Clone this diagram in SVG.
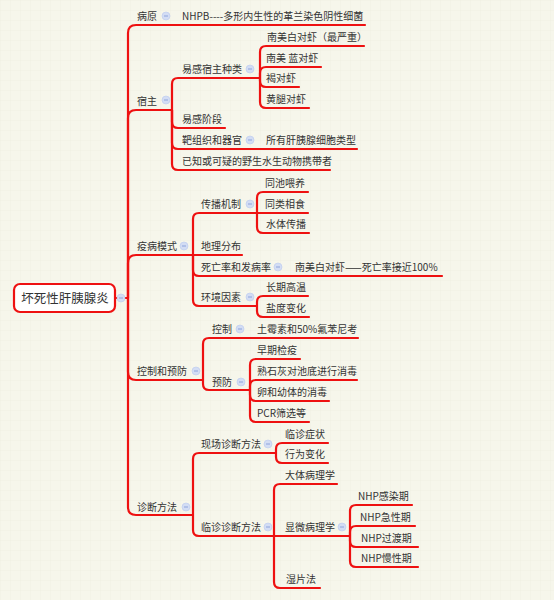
<svg xmlns="http://www.w3.org/2000/svg" width="554" height="600" viewBox="0 0 554 600">
<defs>
<pattern id="grid" width="10" height="10" patternUnits="userSpaceOnUse">
<path d="M10 0H0V10" fill="none" stroke="#ebebdc" stroke-width="0.6"/>
</pattern>
<g id="ic"><circle r="4" fill="#d3ddf4" stroke="#bccaee" stroke-width="0.6"/><path d="M-2 0H2" stroke="#8ea4dc" stroke-width="1"/></g>
</defs>
<style>
text{font-family:"Noto Sans CJK SC","Noto Sans",sans-serif;font-size:10px;fill:#333}
.root{font-size:12.5px}
.c path{fill:none;stroke:#ee1111;stroke-width:2.2;stroke-linecap:round;stroke-linejoin:round}
</style>
<rect width="554" height="600" fill="#f6f6eb"/>
<rect width="554" height="600" fill="url(#grid)"/>
<g class="c" id="connectors">
<path d="M115 298H128"/>
<path d="M128 298V33Q128 25 136 25H365"/>
<path d="M128 298V118Q128 110 136 110H172"/>
<path d="M128 298V263Q128 255 136 255H193"/>
<path d="M128 298V372Q128 380 136 380H203"/>
<path d="M128 298V507Q128 515 136 515H193"/>
<path d="M172 110V84Q172 78 178 78H260"/>
<path d="M172 110V122Q172 128 178 128H225"/>
<path d="M172 110V143Q172 149 178 149H357"/>
<path d="M172 110V164Q172 170 178 170H330"/>
<path d="M260 78V52Q260 46 266 46H364"/>
<path d="M260 78V73Q260 67 266 67H321"/>
<path d="M260 78V81Q260 87 266 87H299"/>
<path d="M260 78V102Q260 108 266 108H309"/>
<path d="M193 255V219Q193 213 199 213H257"/>
<path d="M193 255H242"/>
<path d="M193 255V270Q193 276 199 276H442"/>
<path d="M193 255V300Q193 306 199 306H257"/>
<path d="M257 213V198Q257 192 263 192H308"/>
<path d="M257 213H308"/>
<path d="M257 213V227Q257 233 263 233H309"/>
<path d="M257 306V302Q257 296 263 296H308"/>
<path d="M257 306V311Q257 317 263 317H309"/>
<path d="M203 380V344Q203 338 209 338H358"/>
<path d="M203 380V384Q203 390 209 390H250"/>
<path d="M250 390V365Q250 359 256 359H300"/>
<path d="M250 390V386Q250 380 256 380H357"/>
<path d="M250 390V395Q250 401 256 401H329"/>
<path d="M250 390V416Q250 422 256 422H309"/>
<path d="M193 515V459Q193 453 199 453H276"/>
<path d="M193 515V530Q193 536 199 536H274"/>
<path d="M276 453V449Q276 443 282 443H328"/>
<path d="M276 453V457Q276 463 282 463H328"/>
<path d="M274 536V490Q274 484 280 484H337"/>
<path d="M274 536H350"/>
<path d="M274 536V582Q274 588 280 588H320"/>
<path d="M350 536V511Q350 505 356 505H412"/>
<path d="M350 536V532Q350 526 356 526H415"/>
<path d="M350 536V541Q350 547 356 547H418"/>
<path d="M350 536V561Q350 567 356 567H418"/>
</g>
<g id="root"><rect x="14" y="284" width="101" height="28" rx="6" fill="#fff" stroke="#ee1111" stroke-width="2.2"/><text class="root" x="65" y="303" text-anchor="middle">坏死性肝胰腺炎</text><use href="#ic" x="121" y="298"/></g>
<g id="n-bingyuan"><text x="137" y="20">病原</text><use href="#ic" x="166" y="16"/></g>
<g id="n-nhpb"><text x="182" y="20">NHPB----多形内生性的革兰染色阴性细菌</text></g>
<g id="n-suzhu"><text x="137" y="105">宿主</text><use href="#ic" x="166" y="100"/></g>
<g id="n-yigansuzhu"><text x="182" y="73">易感宿主种类</text><use href="#ic" x="250" y="69"/></g>
<g id="n-nmbdx"><text x="267" y="41">南美白对虾（最严重）</text></g>
<g id="n-nmldx"><text x="266" y="62">南美 蓝对虾</text></g>
<g id="n-hdx"><text x="266" y="82">褐对虾</text></g>
<g id="n-htdx"><text x="266" y="103">黄腿对虾</text></g>
<g id="n-yganjd"><text x="182" y="123">易感阶段</text></g>
<g id="n-bazz"><text x="182" y="144">靶组织和器官</text><use href="#ic" x="250" y="140"/></g>
<g id="n-suoyou"><text x="266" y="144">所有肝胰腺细胞类型</text></g>
<g id="n-yizhi"><text x="182" y="165">已知或可疑的野生水生动物携带者</text></g>
<g id="n-yibing"><text x="137" y="250">疫病模式</text><use href="#ic" x="184" y="246"/></g>
<g id="n-chuanbo"><text x="201" y="208">传播机制</text><use href="#ic" x="250" y="204"/></g>
<g id="n-tongchi"><text x="265" y="187">同池喂养</text></g>
<g id="n-tonglei"><text x="265" y="208">同类相食</text></g>
<g id="n-shuiti"><text x="266" y="228">水体传播</text></g>
<g id="n-dili"><text x="201" y="250">地理分布</text></g>
<g id="n-siwang"><text x="201" y="271">死亡率和发病率</text><use href="#ic" x="278" y="267"/></g>
<g id="n-siwang2"><text x="295" y="271">南美白对虾——死亡率接近100%</text></g>
<g id="n-huanjing"><text x="201" y="301">环境因素</text><use href="#ic" x="250" y="297"/></g>
<g id="n-changqi"><text x="266" y="291">长期高温</text></g>
<g id="n-yandu"><text x="266" y="312">盐度变化</text></g>
<g id="n-kongzhiyufang"><text x="137" y="375">控制和预防</text><use href="#ic" x="196" y="371"/></g>
<g id="n-kongzhi"><text x="212" y="333">控制</text><use href="#ic" x="240" y="329"/></g>
<g id="n-tumei"><text x="257" y="333">土霉素和50%氟苯尼考</text></g>
<g id="n-yufang"><text x="212" y="386">预防</text><use href="#ic" x="241" y="382"/></g>
<g id="n-zaoqi"><text x="257" y="354">早期检疫</text></g>
<g id="n-shushi"><text x="257" y="375">熟石灰对池底进行消毒</text></g>
<g id="n-luan"><text x="257" y="396">卵和幼体的消毒</text></g>
<g id="n-pcr"><text x="257" y="417">PCR筛选等</text></g>
<g id="n-zhenduan"><text x="137" y="511">诊断方法</text><use href="#ic" x="186" y="507"/></g>
<g id="n-xianchang"><text x="201" y="448">现场诊断方法</text><use href="#ic" x="268" y="444"/></g>
<g id="n-linzhenzz"><text x="285" y="438">临诊症状</text></g>
<g id="n-xingwei"><text x="285" y="458">行为变化</text></g>
<g id="n-linzhen"><text x="201" y="531">临诊诊断方法</text><use href="#ic" x="268" y="527"/></g>
<g id="n-dati"><text x="285" y="479">大体病理学</text></g>
<g id="n-xianwei"><text x="285" y="531">显微病理学</text><use href="#ic" x="342" y="527"/></g>
<g id="n-shipian"><text x="286" y="583">湿片法</text></g>
<g id="n-nhp1"><text x="358" y="500">NHP感染期</text></g>
<g id="n-nhp2"><text x="360" y="521">NHP急性期</text></g>
<g id="n-nhp3"><text x="361" y="542">NHP过渡期</text></g>
<g id="n-nhp4"><text x="361" y="562">NHP慢性期</text></g>
</svg>
